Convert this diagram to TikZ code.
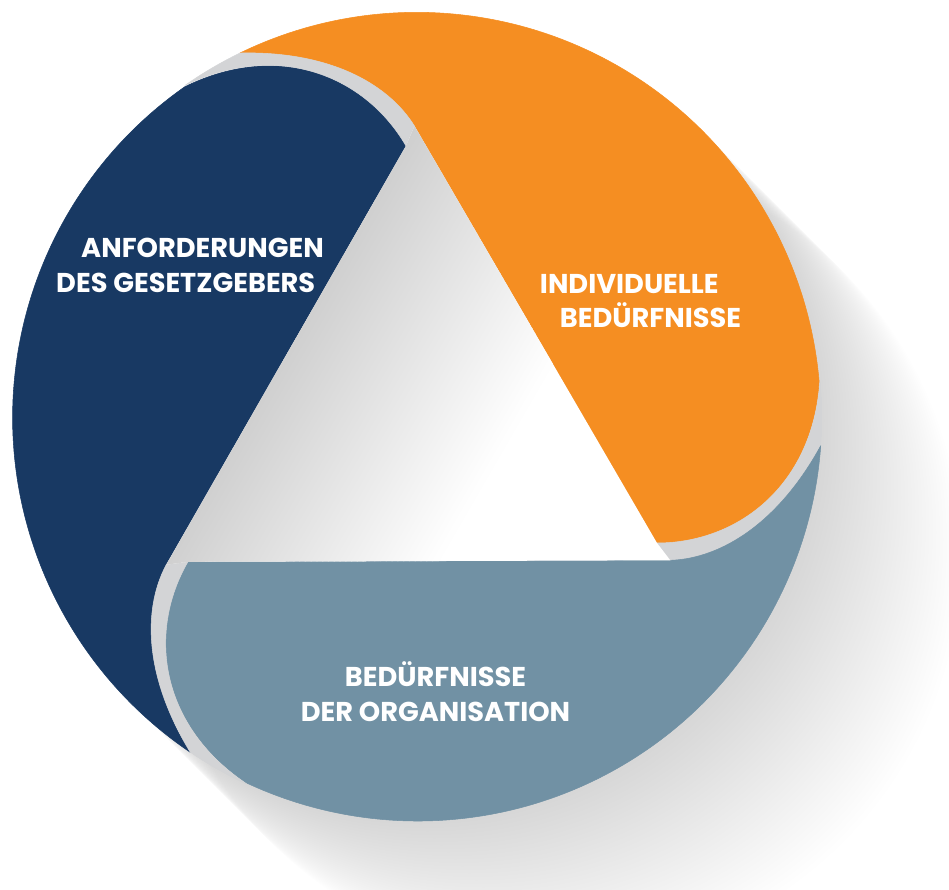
\documentclass[tikz,border=0pt]{standalone}
\usepackage{fontspec}
\setmainfont{Poppins}
\definecolor{navyseg}{HTML}{183963}
\definecolor{orangeseg}{HTML}{F58E22}
\definecolor{greyseg}{HTML}{7191A4}
\definecolor{bandgrey}{HTML}{D3D4D6}
% one segment and the band under its rounded end, drawn for the orange one
\newcommand{\segpath}{(-2.5,291) .. controls (-30,335) and (-90,366) .. (-177,364)
  arc[start angle=115.93, end angle=5, radius=404]
  .. controls (395,-70) and (320,-126) .. (240,-126) -- cycle}
\newcommand{\bandpath}{(240,-126) -- (253.3,-143.3)
  .. controls (305.1,-141.5) and (362,-105.1) .. (403.7,-28.7)
  arc[start angle=-4.07, end angle=5, radius=404]
  .. controls (395,-70) and (320,-126) .. (240,-126) -- cycle}
\tikzset{
  seglabel/.style={text=white, inner sep=0pt, font=\fontsize{15.5}{19.8}\selectfont\bfseries},
  segfill/.style={fill=#1, draw=#1, line width=0.3pt, line join=round}
}
\begin{document}
\begin{tikzpicture}[x=0.02cm, y=0.02cm]
  \useasboundingbox (-417,-472) rectangle (532,417);
  % drop shadow to the lower right
  \foreach \k in {1,...,40}
    \fill[black, opacity=0.0055] (3.5*\k,-3.5*\k) circle[radius=404];
  % the three segments
  \foreach \ang/\col in {0/orangeseg, 120/navyseg, -120/greyseg} {
    \begin{scope}[rotate=\ang]
      \path[segfill=\col] \segpath;
      \path[segfill=bandgrey] \bandpath;
    \end{scope}
  }
  % inner triangle
  \begin{scope}
    \clip (-2.5,291) -- (240,-126) -- (253.3,-143.3) -- (-229.1,-144.8)
      -- (-250.8,-147.7) -- (-11,271) -- cycle;
    \fill[white] (-300,-200) rectangle (300,320);
    \begin{scope}[rotate=-30]
      \foreach \k [evaluate=\k as \pct using {38-0.8*\k}] in {0,...,47}
        \fill[gray!\pct] (-150+5*\k,-330) rectangle (-144+5*\k,330);
    \end{scope}
  \end{scope}
  % labels
  \node[seglabel, align=left] (lawreq) at (-227,151.5)
    {\hspace*{0.5cm}ANFORDERUNGEN\\DES GESETZGEBERS};
  \node[seglabel, align=left] (indneeds) at (223.5,116)
    {INDIVIDUELLE\\\hspace*{0.4cm}BEDÜRFNISSE};
  \node[seglabel, align=center] (orgneeds) at (18.5,-274.5)
    {BEDÜRFNISSE\\DER ORGANISATION};
\end{tikzpicture}
\end{document}
